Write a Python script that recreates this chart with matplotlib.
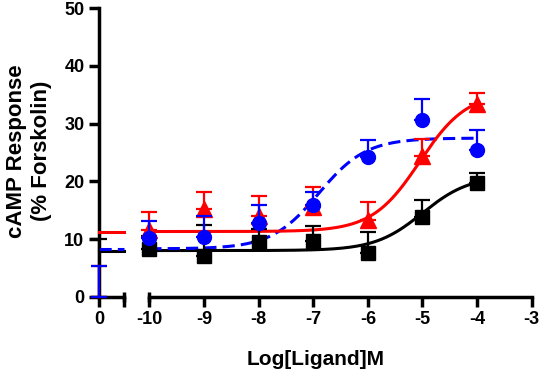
import numpy as np
import matplotlib
matplotlib.use("Agg")
import matplotlib.pyplot as plt

plt.rcParams["font.family"] = ["Liberation Sans", "DejaVu Sans"]
plt.rcParams["font.weight"] = "bold"

#Data
log_conc = [-10, -9, -8, -7, -6, -5, -4]

black_mean = [8.3, 7.1, 9.4, 9.6, 7.6, 13.9, 19.7]
black_sem = [2.3, 5.4, 2.4, 2.7, 3.7, 2.9, 1.7]
red_mean = [11.5, 15.2, 14.0, 15.5, 13.3, 24.4, 33.4]
red_sem = [3.1, 3.0, 3.4, 3.6, 3.2, 2.9, 2.0]
blue_mean = [10.2, 10.4, 12.7, 15.9, 24.2, 30.6, 25.5]
blue_sem = [3.0, 3.6, 3.2, 2.3, 3.0, 3.6, 3.4]

# basal (x = 0) values
basal_mean = [0.0, 0.0, 0.0]   # black, red, blue
basal_sem = [10.0, 5.4, 5.4]

# fitted sigmoid parameters: bottom, top, logEC50
black_fit = [8.0, 21.0, -5.0]
red_fit = [11.3, 35.5, -5.05]
blue_fit = [8.3, 27.5, -6.9]

x_ticks = [-10, -9, -8, -7, -6, -5, -4, -3]
y_ticks = [0, 10, 20, 30, 40, 50]

colors = ["#000000", "#FF0000", "#0000FF"]
markers = ["s", "^", "o"]
marker_sizes = [10.5, 11, 10]


def sigmoid(x, p):
    return p[0] + (p[1] - p[0]) / (1 + 10 ** (p[2] - x))


fig = plt.figure(figsize=(5.4, 3.71), dpi=100)
bot = 1 - 296.7 / 371
hgt = (296.7 - 8.3) / 371
ax0 = fig.add_axes([99 / 540, bot, 25.3 / 540, hgt])
ax1 = fig.add_axes([149.3 / 540, bot, 382.4 / 540, hgt])

lw_axis = 2.5
for ax in (ax0, ax1):
    ax.set_ylim(0, 50)
    for s in ["top", "right"]:
        ax.spines[s].set_visible(False)
    ax.spines["bottom"].set_linewidth(lw_axis)
    ax.spines["left"].set_linewidth(lw_axis)
    ax.tick_params(width=lw_axis, length=7.5, labelsize=13, pad=3)

ax1.spines["left"].set_visible(False)
ax1.set_yticks([])
ax1.set_xlim(-10, -3)
ax1.set_xticks(x_ticks)
ax1.set_xticklabels([str(t) for t in x_ticks])

ax0.set_xlim(0, 0.5)
ax0.set_xticks([0, 0.5])
ax0.set_xticklabels(["0", ""])
ax0.set_yticks(y_ticks)
ax0.set_yticklabels([str(t) for t in y_ticks])

# break caps on x axis (short upward part)
ax0.plot([0.5], [0], marker="|", markersize=7, mew=lw_axis, color="black", clip_on=False, zorder=5)
ax1.plot([-10], [0], marker="|", markersize=7, mew=lw_axis, color="black", clip_on=False, zorder=5)

#Fitted curves
x_fit = np.linspace(-10, -4, 300)
fits = [black_fit, blue_fit, red_fit]
fit_cols = [colors[0], colors[2], colors[1]]
fit_styles = ["-", (0, (4, 2)), "-"]
for p, c, ls in zip(fits, fit_cols, fit_styles):
    ax1.plot(x_fit, sigmoid(x_fit, p), color=c, lw=2.2, linestyle=ls, zorder=3)
    ax0.plot([0, 0.5], [p[0], p[0]], color=c, lw=2.2, linestyle=ls, clip_on=False, zorder=3)

#Data points
means = [black_mean, red_mean, blue_mean]
sems = [black_sem, red_sem, blue_sem]
for i in range(3):
    ax1.errorbar(log_conc, means[i], yerr=[[0] * len(sems[i]), sems[i]],
                 fmt=markers[i], color=colors[i], ms=marker_sizes[i], elinewidth=1.6,
                 capsize=6, capthick=1.6, clip_on=False, zorder=4 + i)
    ax0.errorbar([0], [basal_mean[i]], yerr=[[0], [basal_sem[i]]],
                 fmt="none", ecolor=colors[i], elinewidth=1.6,
                 capsize=6, capthick=1.6, clip_on=False, zorder=6 + i)

#Labels
fig.text(29 / 540, 1 - 151 / 371, "cAMP Response\n(% Forskolin)", rotation=90,
         ha="center", va="center", multialignment="center", fontsize=16, fontweight="bold")
fig.text(316 / 540, 1 - 365 / 371, "Log[Ligand]M", ha="center", va="baseline",
         fontsize=15, fontweight="bold")

fig.savefig("out.png", dpi=100)
